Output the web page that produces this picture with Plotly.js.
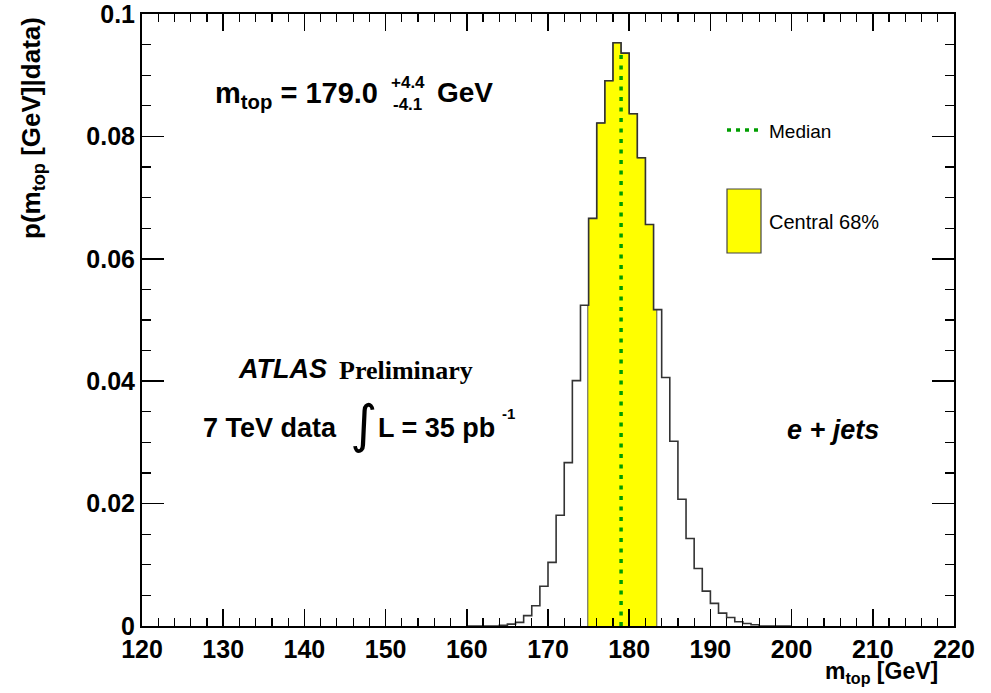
<!DOCTYPE html>
<html>
<head>
<meta charset="utf-8">
<script src="https://cdn.plot.ly/plotly-3.0.1.min.js"></script>
<style>html,body{margin:0;padding:0;background:#fff;}#plot{width:991px;height:693px;}</style>
</head>
<body>
<div id="plot"></div>
<script>
// ---- data ----
const binLowEdges = [160,161,162,163,164,165,166,167,168,169,170,171,172,173,174,175,176,177,178,179,180,181,182,183,184,185,186,187,188,189,190,191,192,193,194,195,196,197,198,199];
const binValues   = [0,0,0,0,0.0001,0.0003,0.0006,0.0017,0.0033,0.0065,0.0104,0.0181,0.0267,0.0401,0.0524,0.0666,0.0822,0.0891,0.0953,0.0936,0.0837,0.0765,0.0656,0.0517,0.0406,0.0302,0.0207,0.0143,0.0094,0.0057,0.0037,0.0021,0.0014,0.0007,0.0004,0.0002,0,0,0,0];
const binWidth = 1;
const medianValue = 179.0;
const centralLow = 174.9;
const centralHigh = 183.4;
const xTickVals = [120,130,140,150,160,170,180,190,200,210,220];
const yTickVals = [0,0.02,0.04,0.06,0.08,0.1];
const yTickText = ['0','0.02','0.04','0.06','0.08','0.1'];

// ---- helpers ----
function valueAt(x){
  for(let i=0;i<binLowEdges.length;i++){
    if(x>=binLowEdges[i] && x<binLowEdges[i]+binWidth) return binValues[i];
  }
  return 0;
}
const stepX = binLowEdges.concat([binLowEdges[binLowEdges.length-1]+binWidth]);
const stepY = binValues.concat([binValues[binValues.length-1]]);

const fillX = [centralLow, centralLow];
const fillY = [0, valueAt(centralLow)];
for(let i=0;i<binLowEdges.length;i++){
  const e = binLowEdges[i];
  if(e>centralLow && e<centralHigh){ fillX.push(e); fillY.push(binValues[i]); }
}
fillX.push(centralHigh); fillY.push(valueAt(centralHigh - 1e-9));
fillX.push(centralHigh); fillY.push(0);

const green = '#009e00';

const traces = [
  {x: fillX, y: fillY, type:'scatter', mode:'lines', line:{shape:'hv', color:'#555', width:1}, fill:'toself', fillcolor:'#ffff00', hoverinfo:'skip', showlegend:false},
  {x: stepX, y: stepY, type:'scatter', mode:'lines', line:{shape:'hv', color:'#333', width:1.6}, showlegend:false},
  {x: [medianValue, medianValue], y:[0, valueAt(medianValue)], type:'scatter', mode:'lines', line:{color:green, width:3.5, dash:'4px,6.5px'}, showlegend:false}
];

const L=142, R=954, T=14, B=626;
const px = p => (p-L)/(R-L);
const py = p => (B-p)/(B-T);

const sans = 'Liberation Sans, Arial, Helvetica, sans-serif';
const serif = 'Liberation Serif, Times New Roman, serif';

function ann(text, x, y, size, opts){
  return Object.assign({text:text, x:px(x), y:py(y), xref:'paper', yref:'paper', showarrow:false,
    xanchor:'left', yanchor:'middle', font:{family:sans, size:size, color:'#000', weight:'bold'}}, opts||{});
}

const annotations = [
  ann('m<sub>top</sub> = 179.0', 213, 95, 29),
  ann('+4.4', 389, 82, 17),
  ann('-4.1', 391, 104, 17),
  ann('GeV', 435, 93, 28),
  ann('<i>ATLAS</i>', 236, 369, 27),
  ann('Preliminary', 337, 371, 26, {font:{family:serif, size:26, color:'#000', weight:'bold'}}),
  ann('7 TeV data', 201, 428, 27),
  ann('\u222B', 348, 424, 52, {font:{family:'DejaVu Sans, sans-serif', size:52, color:'#000', weight:'normal'}}),
  ann('L = 35 pb', 376, 428, 27),
  ann('-1', 500, 413, 15),
  ann('<i>e + jets</i>', 785, 430, 27),
  ann('Median', 767, 131, 19, {font:{family:sans, size:19, color:'#000', weight:'normal'}}),
  ann('Central 68%', 767, 222, 20, {font:{family:sans, size:20, color:'#000', weight:'normal'}}),
  ann('p(m<sub>top</sub> [GeV]|data)', 32, 128, 26, {textangle:-90, xanchor:'center', yanchor:'middle'}),
  ann('m<sub>top</sub> [GeV]', 940, 672, 23, {xanchor:'right'})
];

const shapes = [
  {type:'line', xref:'paper', yref:'paper', x0:px(727), x1:px(763), y0:py(130), y1:py(130), line:{color:green, width:3.5, dash:'4px,5px'}},
  {type:'rect', xref:'paper', yref:'paper', x0:px(727), x1:px(761), y0:py(253), y1:py(189), fillcolor:'#ffff00', line:{color:'#444', width:1.2}}
];

const tickFont = {family:sans, size:25, color:'#000', weight:'bold'};

const layout = {
  width:991, height:693,
  margin:{l:L, r:991-R, t:T, b:693-B, pad:0},
  paper_bgcolor:'#fff', plot_bgcolor:'#fff',
  showlegend:false,
  xaxis:{range:[120,220], tickmode:'array', tickvals:xTickVals, ticktext:xTickVals.map(String),
    ticks:'inside', ticklen:17, tickwidth:1.5, tickcolor:'#000',
    minor:{dtick:2, tick0:120, ticks:'inside', ticklen:8, tickwidth:1.2, tickcolor:'#000', showgrid:false},
    showline:true, linecolor:'#000', linewidth:2, mirror:'allticks', showgrid:false, zeroline:false,
    ticklabeloverflow:'allow', tickfont:tickFont},
  yaxis:{range:[0,0.1], tickmode:'array', tickvals:yTickVals, ticktext:yTickText,
    ticks:'inside', ticklen:22, tickwidth:1.5, tickcolor:'#000',
    minor:{dtick:0.005, tick0:0, ticks:'inside', ticklen:9, tickwidth:1.2, tickcolor:'#000', showgrid:false},
    showline:true, linecolor:'#000', linewidth:2, mirror:'allticks', showgrid:false, zeroline:false,
    ticklabeloverflow:'allow', tickfont:tickFont},
  annotations:annotations,
  shapes:shapes
};

Plotly.newPlot('plot', traces, layout, {staticPlot:true, displayModeBar:false});
</script>
</body>
</html>
